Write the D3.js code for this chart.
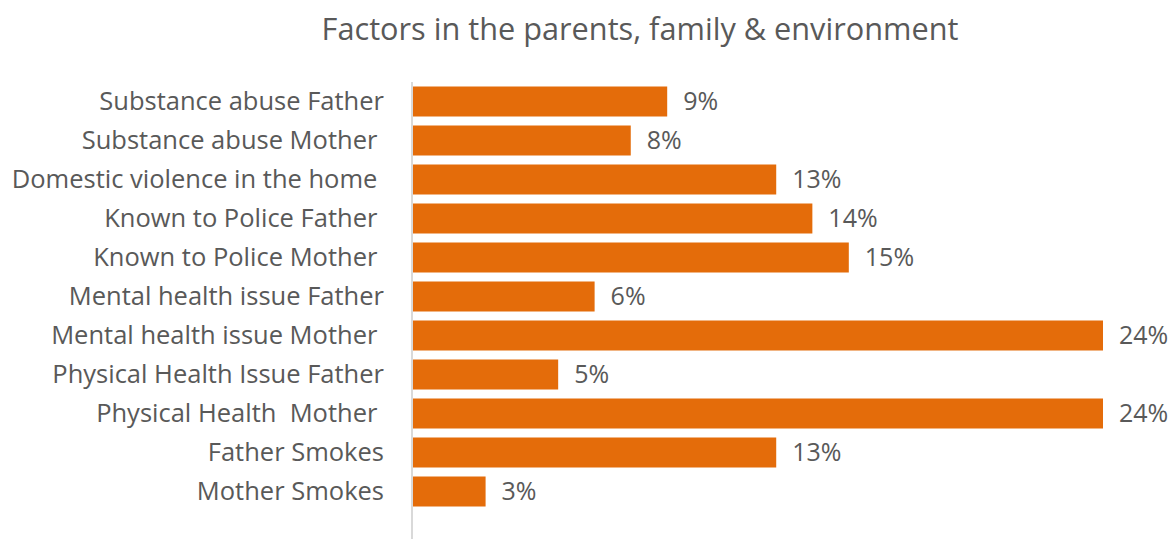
<!DOCTYPE html>
<html>
<head>
<meta charset="utf-8">
<script src="https://cdn.jsdelivr.net/npm/d3@7"></script>
<style>
  body { margin: 0; background: #fff; }
  svg text { font-family: "Open Sans", sans-serif; fill: #595959; white-space: pre; }
</style>
</head>
<body>
<div id="chart"></div>
<script>
// chart values (counts out of 79, as %)
const categories = [
  'Substance abuse Father',
  'Substance abuse Mother ',
  'Domestic violence in the home ',
  'Known to Police Father ',
  'Known to Police Mother ',
  'Mental health issue Father',
  'Mental health issue Mother ',
  'Physical Health Issue Father',
  'Physical Health  Mother ',
  'Father Smokes',
  'Mother Smokes'
];
const values = [8.86, 7.59, 12.66, 13.92, 15.19, 6.33, 24.05, 5.06, 24.05, 12.66, 2.53];
const title = 'Factors in the parents, family & environment';

const width = 1176, height = 539;
const margin = {top: 82, left: 413, right: 73, bottom: 28};

const svg = d3.select('#chart')
  .append('svg')
  .attr('width', width)
  .attr('height', height);

const x = d3.scaleLinear()
  .domain([0, d3.max(values)])
  .range([margin.left, width - margin.right]);

const y = d3.scaleBand()
  .domain(categories)
  .range([margin.top, margin.top + 39 * categories.length])
  .paddingInner(9 / 39)
  .paddingOuter(4.5 / 39);

/*title*/
svg.append('text')
  .attr('x', 640)
  .attr('y', 40)
  .attr('text-anchor', 'middle')
  .style('font-size', '30.7px')
  .text(title);

/*bars*/
svg.selectAll('rect.bar')
  .data(values)
  .enter()
  .append('rect')
  .attr('class', 'bar')
  .attr('x', x(0))
  .attr('y', (d, i) => y(categories[i]))
  .attr('width', d => x(d) - x(0))
  .attr('height', y.bandwidth())
  .attr('fill', '#E46C0A');

/*value labels*/
svg.selectAll('text.val')
  .data(values)
  .enter()
  .append('text')
  .attr('class', 'val')
  .attr('x', d => x(d) + 16)
  .attr('y', (d, i) => y(categories[i]) + y.bandwidth() / 2)
  .attr('dy', '0.35em')
  .style('font-size', '25px')
  .text(d => Math.round(d) + '%');

/*category axis*/
const axis = svg.append('g')
  .attr('transform', `translate(${margin.left - 1},0)`)
  .call(d3.axisLeft(y).tickSize(0).tickPadding(28));

axis.select('.domain')
  .attr('d', `M0,${margin.top}V${height}`)
  .attr('stroke', '#d9d9d9')
  .attr('stroke-width', 2);

axis.selectAll('text')
  .style('font-size', '25.5px')
  .style('font-family', '"Open Sans", sans-serif')
  .attr('fill', '#595959');
</script>
</body>
</html>
